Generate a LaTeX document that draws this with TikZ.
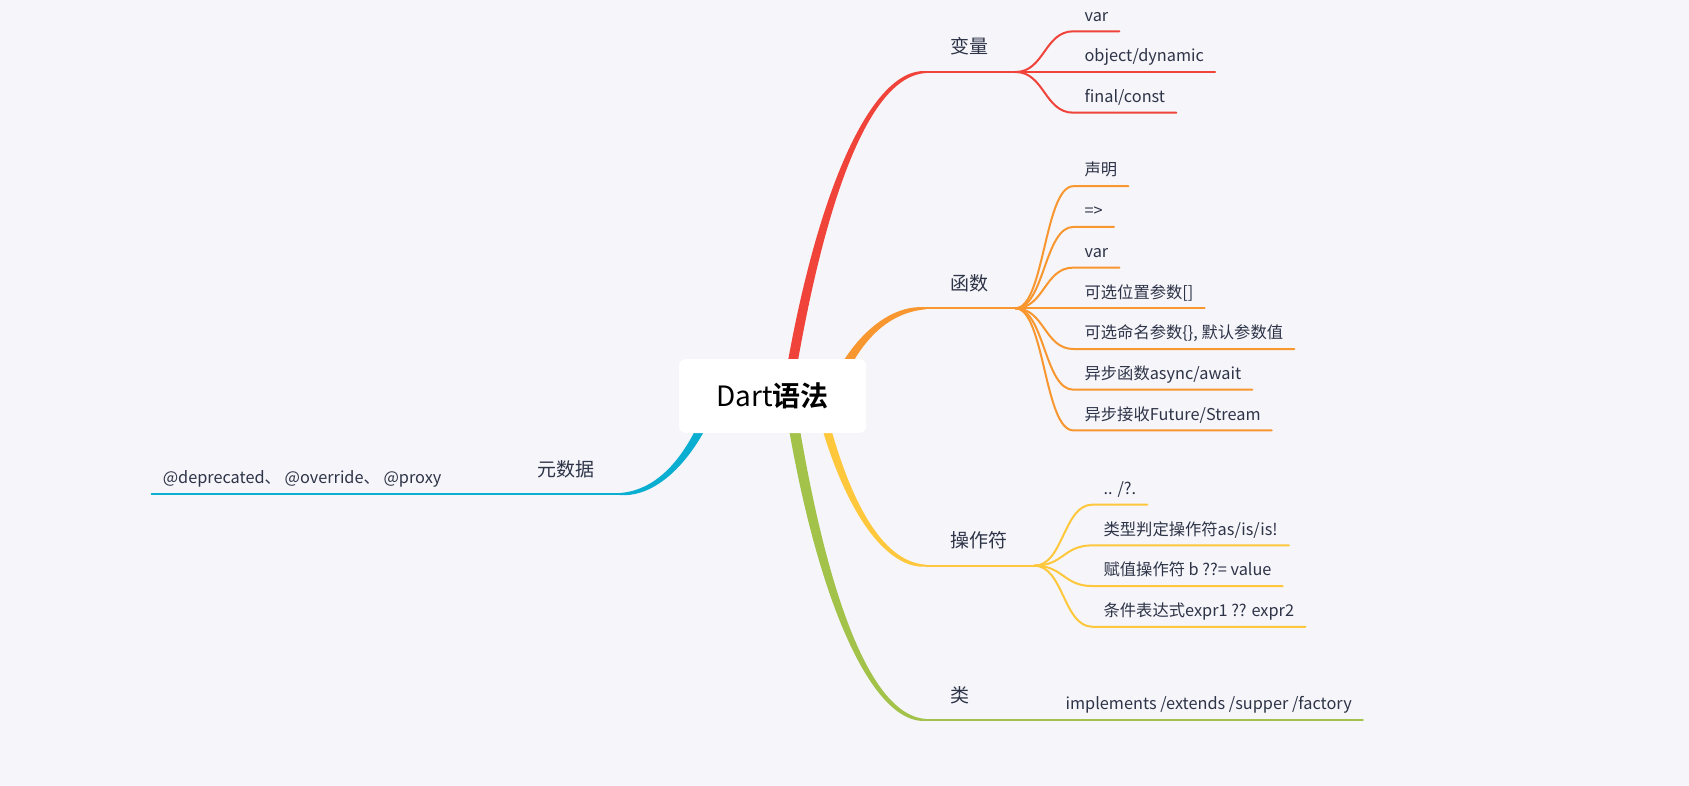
\documentclass[tikz,border=0pt]{standalone}
\usepackage{fontspec}
\newfontfamily\cjk{Noto Sans CJK SC}[BoldFont={Noto Sans CJK SC Bold}]
\usetikzlibrary{calc}

\definecolor{bg}{HTML}{F5F5FA}
\definecolor{ink}{HTML}{2E3447}
\definecolor{cRed}{HTML}{F0433A}
\definecolor{cOrange}{HTML}{F8972F}
\definecolor{cYellow}{HTML}{FEC73C}
\definecolor{cGreen}{HTML}{A2C24A}
\definecolor{cBlue}{HTML}{0AAED0}

% tapered main branch: colour, start, control 1, control 2, end, half width, end side
\newcommand\limb[7]{%
  \fill[#1] ($(#2)+(-#6,0)$) .. controls ($(#3)+(-#6,0)$) and ($(#4)+(0,#6*0.8*#7)$) .. ($(#5)+(0,#7)$)
    -- ($(#5)-(0,#7)$) .. controls ($(#4)-(0,#6*0.8*#7)$) and ($(#3)+(#6,0)$) .. ($(#2)+(#6,0)$) -- cycle;}

\tikzset{
  topic/.style={font=\cjk\fontsize{19}{19}\selectfont, text=ink, inner sep=0pt},
  leaf/.style={font=\cjk\fontsize{16.3}{16.3}\selectfont, text=ink,
    inner xsep=11pt, inner ysep=10pt, text depth=0pt},
  twig/.style={draw=#1, line width=2pt, line cap=round}
}

\begin{document}
\begin{tikzpicture}[x=1pt, y=-1pt]
    % Background
    \fill[bg] (0,0) rectangle (1689,786);
    \useasboundingbox (0,0) rectangle (1689,786);

    % Branch start and end points
    \coordinate (vrS) at (787,396);  \coordinate (vrE) at (926,72);
    \coordinate (fnS) at (831,396);  \coordinate (fnE) at (926,308.3);
    \coordinate (opS) at (818,396);  \coordinate (opE) at (926,565.7);
    \coordinate (clS) at (789,396);  \coordinate (clE) at (926,720);
    \coordinate (mdS) at (715,396);  \coordinate (mdE) at (620,494);

    % Main branches
    \limb{cRed}{vrS}{819,196}{870,72}{vrE}{5}{-1}
    \limb{cOrange}{fnS}{853,341}{887,308.3}{fnE}{5.5}{-1}
    \limb{cYellow}{opS}{843,501}{882,565.7}{opE}{4.5}{1}
    \limb{cGreen}{clS}{820,597}{871,720}{clE}{5.5}{1}
    \limb{cBlue}{mdS}{693,457}{658,494}{mdE}{5}{-1}

    % Topic labels
    \node[topic, anchor=base west] (vr) at (950,54) {变量};
    \node[topic, anchor=base west] (fn) at (950,290.3) {函数};
    \node[topic, anchor=base west] (op) at (950,547.7) {操作符};
    \node[topic, anchor=base west] (cl) at (950,702) {类};
    \node[topic, anchor=base east] (md) at (595,476) {元数据};

    \coordinate (vrJ) at ($(vr.east |- vrE)+(27,0)$);
    \coordinate (fnJ) at ($(fn.east |- fnE)+(27,0)$);
    \coordinate (opJ) at ($(op.east |- opE)+(27,0)$);

    % 变量
    \node[leaf, anchor=south west] (vr1) at ($(vrJ)+(58,-40.7)$) {var};
    \node[leaf, anchor=south west] (vr2) at ($(vrJ)+(58,0)$) {object/dynamic};
    \node[leaf, anchor=south west] (vr3) at ($(vrJ)+(58,40.7)$) {final/const};
    \draw[twig=cRed] (vrE) -- (vrJ);
    \draw[twig=cRed] (vrJ) .. controls +(29,0) and +(-29,0) .. (vr1.south west) -- (vr1.south east);
    \draw[twig=cRed] (vrJ) -- (vr2.south west) -- (vr2.south east);
    \draw[twig=cRed] (vrJ) .. controls +(29,0) and +(-29,0) .. (vr3.south west) -- (vr3.south east);

    % 函数
    \node[leaf, anchor=south west] (fn1) at ($(fnJ)+(58,-122.1)$) {声明};
    \node[leaf, anchor=south west] (fn2) at ($(fnJ)+(58,-81.4)$) {=>};
    \node[leaf, anchor=south west] (fn3) at ($(fnJ)+(58,-40.7)$) {var};
    \node[leaf, anchor=south west] (fn4) at ($(fnJ)+(58,0)$) {可选位置参数[]};
    \node[leaf, anchor=south west] (fn5) at ($(fnJ)+(58,40.7)$) {可选命名参数\{\}, 默认参数值};
    \node[leaf, anchor=south west] (fn6) at ($(fnJ)+(58,81.4)$) {异步函数async/await};
    \node[leaf, anchor=south west] (fn7) at ($(fnJ)+(58,122.1)$) {异步接收Future/Stream};
    \draw[twig=cOrange] (fnE) -- (fnJ);
    \draw[twig=cOrange] (fnJ) .. controls +(29,0) and +(-29,0) .. (fn1.south west) -- (fn1.south east);
    \draw[twig=cOrange] (fnJ) .. controls +(29,0) and +(-29,0) .. (fn2.south west) -- (fn2.south east);
    \draw[twig=cOrange] (fnJ) .. controls +(29,0) and +(-29,0) .. (fn3.south west) -- (fn3.south east);
    \draw[twig=cOrange] (fnJ) -- (fn4.south west) -- (fn4.south east);
    \draw[twig=cOrange] (fnJ) .. controls +(29,0) and +(-29,0) .. (fn5.south west) -- (fn5.south east);
    \draw[twig=cOrange] (fnJ) .. controls +(29,0) and +(-29,0) .. (fn6.south west) -- (fn6.south east);
    \draw[twig=cOrange] (fnJ) .. controls +(29,0) and +(-29,0) .. (fn7.south west) -- (fn7.south east);

    % 操作符
    \node[leaf, anchor=south west] (op1) at ($(opJ)+(58,-61.05)$) {.. /?.};
    \node[leaf, anchor=south west] (op2) at ($(opJ)+(58,-20.35)$) {类型判定操作符as/is/is!};
    \node[leaf, anchor=south west] (op3) at ($(opJ)+(58,20.35)$) {赋值操作符 b ??= value};
    \node[leaf, anchor=south west] (op4) at ($(opJ)+(58,61.05)$) {条件表达式expr1 ?? expr2};
    \draw[twig=cYellow] (opE) -- (opJ);
    \draw[twig=cYellow] (opJ) .. controls +(29,0) and +(-29,0) .. (op1.south west) -- (op1.south east);
    \draw[twig=cYellow] (opJ) .. controls +(29,0) and +(-29,0) .. (op2.south west) -- (op2.south east);
    \draw[twig=cYellow] (opJ) .. controls +(29,0) and +(-29,0) .. (op3.south west) -- (op3.south east);
    \draw[twig=cYellow] (opJ) .. controls +(29,0) and +(-29,0) .. (op4.south west) -- (op4.south east);

    % 类
    \node[leaf, anchor=south west] (cl1) at ($(cl.east |- clE)+(85,0)$) {implements /extends /supper /factory};
    \draw[twig=cGreen] (clE) -- (cl1.south east);

    % 元数据
    \node[leaf, anchor=south east] (md1) at ($(md.west |- mdE)+(-85,0)$) {@deprecated、 @override、 @proxy};
    \draw[twig=cBlue] (mdE) -- (md1.south west);

    % Root
    \node[fill=white, rounded corners=7pt, minimum width=187pt, minimum height=74pt,
      font=\cjk\fontsize{28}{28}\selectfont] (root) at (772.5,396) {Dart\textbf{语法}};
\end{tikzpicture}
\end{document}
